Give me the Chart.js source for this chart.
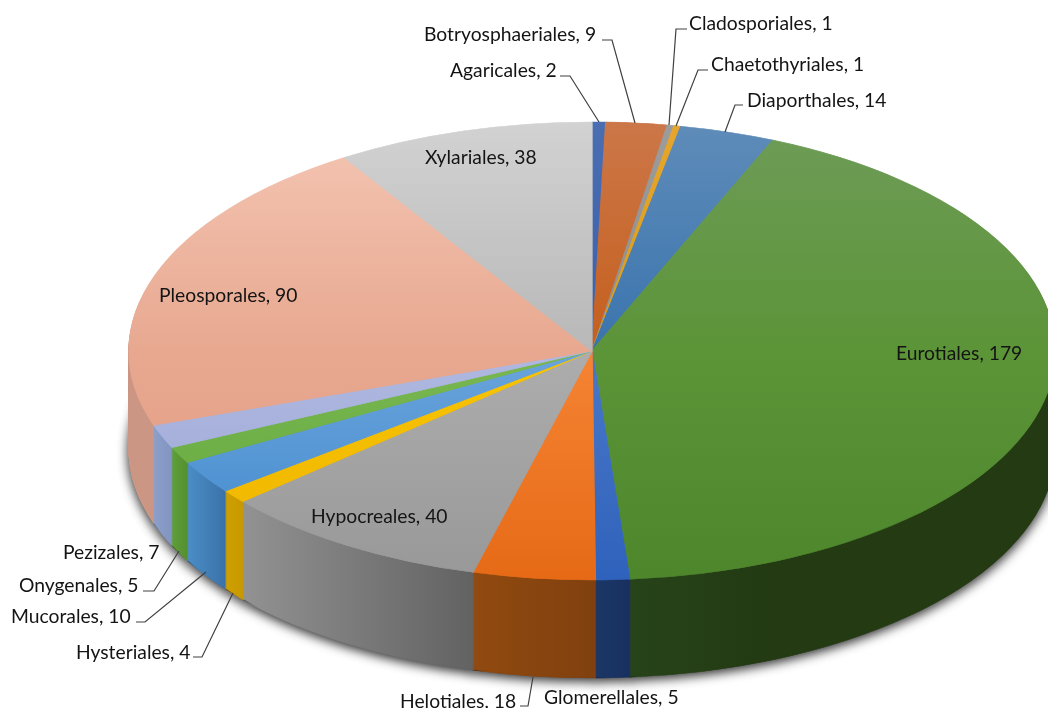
<!DOCTYPE html>
<html>
<head>
<meta charset="utf-8">
<title>Fungal orders</title>
<script src="https://cdn.jsdelivr.net/npm/chart.js@4"></script>
<style>
  html, body { margin: 0; padding: 0; background: #fff; }
  canvas { display: block; }
</style>
</head>
<body>
<canvas id="pieChart" width="1048" height="708"></canvas>
<script>
const orders = ["Agaricales", "Botryosphaeriales", "Cladosporiales", "Chaetothyriales", "Diaporthales",
  "Eurotiales", "Glomerellales", "Helotiales", "Hypocreales", "Hysteriales",
  "Mucorales", "Onygenales", "Pezizales", "Pleosporales", "Xylariales"];
const counts = [2, 9, 1, 1, 14, 179, 5, 18, 40, 4, 10, 5, 7, 90, 38];

// top face colours at the back edge, the hub and the front edge of the pie
const faceBack = ["#4b6eb2", "#cc7749", "#9c9c9c", "#e6a62e", "#5f8cb9",
  "#6e9c58", "#4a78c8", "#f58434", "#adadad", "#f8c400",
  "#6aa4dc", "#7ab852", "#b0b8e0", "#f4c6b4", "#d2d2d2"];
const faceHub = ["#3a60ac", "#c55f1c", "#8e8e8e", "#dc9c14", "#3a74ae",
  "#5c9438", "#4a78c8", "#f58434", "#adadad", "#f8c400",
  "#6aa4dc", "#7ab852", "#b0b8e0", "#e8a890", "#b8b8b8"];
const faceFront = ["#3a60ac", "#c55f1c", "#8e8e8e", "#dc9c14", "#3a74ae",
  "#4e862c", "#2f62bc", "#e66a16", "#989898", "#eeb400",
  "#3f88cc", "#60a438", "#98a6d4", "#e09a80", "#b8b8b8"];
// rim colours, left and right end of each slice
const sideLeft = ["#263c68", "#7a3f18", "#555555", "#8a6210", "#264c78",
  "#274319", "#1b3766", "#914a10", "#929292", "#cfa000",
  "#4b8dc6", "#5e9e38", "#8c9fcb", "#cb9784", "#777777"];
const sideRight = ["#263c68", "#7a3f18", "#555555", "#8a6210", "#264c78",
  "#233a13", "#183060", "#80400f", "#626262", "#c89800",
  "#3a72a8", "#558f30", "#8295bf", "#c08a76", "#777777"];

// where the labels sit: [order index, left x, middle y]
const labelSpots = [
  [0, 450, 71], [1, 424, 35], [2, 689, 24], [3, 711, 65], [4, 747, 101],
  [5, 896, 354], [6, 544, 698], [7, 400, 702], [8, 311, 517], [9, 76, 653],
  [10, 11, 617], [11, 19, 586], [12, 63, 553], [13, 159, 296], [14, 425, 158]
];
// leader lines
const leaders = [
  [[560, 76], [570, 76], [599, 122]],
  [[602, 40], [612, 40], [635, 123]],
  [[687, 29], [676, 29], [669, 125]],
  [[708, 70], [698, 70], [676, 126]],
  [[743, 105], [735, 105], [725, 132]],
  [[143, 591], [154, 591], [179, 551]],
  [[136, 622], [145, 622], [206, 572]],
  [[193, 657], [202, 657], [233, 593]],
  [[520, 706], [528, 706], [533, 677]]
];

// shape of the flattened pie on the page
const CX = 592, CY = 351, RX = 463, RY = 229, DEPTH = 98;

function faceGradient(context) {
  const chart = context.chart;
  const i = context.dataIndex;
  const g = chart.ctx.createLinearGradient(0, 0, 0, chart.height);
  g.addColorStop(0, faceBack[i]);
  g.addColorStop(0.5, faceHub[i]);
  g.addColorStop(1, faceFront[i]);
  return g;
}

// draws one slice again with other colours, still the library's own arc element
function drawArcWith(ctx, arc, fill) {
  const saved = arc.options;
  const opts = Object.create(saved);
  opts.backgroundColor = fill;
  opts.borderColor = fill;
  arc.options = opts;
  arc.draw(ctx);
  arc.options = saved;
}

const pie3d = {
  id: "pie3d",
  beforeDatasetsDraw(chart) {
    const ctx = chart.ctx;
    const arcs = chart.getDatasetMeta(0).data;
    const R = arcs[0].outerRadius;
    const scaleY = RY / R;

    ctx.save();
    ctx.translate(CX, CY);
    ctx.scale(RX / R, scaleY);
    ctx.translate(-arcs[0].x, -arcs[0].y);

    const sideFills = arcs.map((arc, i) => {
      const x1 = arc.x + R * Math.cos(arc.endAngle);
      const x2 = arc.x + R * Math.cos(arc.startAngle);
      const g = ctx.createLinearGradient(Math.min(x1, x2), 0, Math.max(x1, x2), 0);
      g.addColorStop(0, sideLeft[i]);
      g.addColorStop(1, sideRight[i]);
      return g;
    });

    // rim: stack the pie downwards, the lowest copy throws the shadow
    for (let d = DEPTH; d >= 1; d--) {
      ctx.save();
      ctx.translate(0, d / scaleY);
      if (d === DEPTH) {
        ctx.shadowColor = "rgba(0,0,0,0.85)";
        ctx.shadowBlur = 11;
        ctx.shadowOffsetY = 3;
      }
      arcs.forEach((arc, i) => drawArcWith(ctx, arc, sideFills[i]));
      ctx.restore();
    }
  },
  afterDatasetsDraw(chart) {
    const ctx = chart.ctx;
    ctx.restore();

    ctx.strokeStyle = "#404040";
    ctx.lineWidth = 1.2;
    leaders.forEach((pts) => {
      ctx.beginPath();
      pts.forEach((p, i) => (i ? ctx.lineTo(p[0], p[1]) : ctx.moveTo(p[0], p[1])));
      ctx.stroke();
    });

    ctx.font = '19.3px Lato, "Open Sans", sans-serif';
    ctx.fillStyle = "#141414";
    ctx.textAlign = "left";
    ctx.textBaseline = "middle";
    labelSpots.forEach(([i, x, y]) => {
      ctx.fillText(`${orders[i]}, ${counts[i]}`, x, y);
    });
  },
};

new Chart(document.getElementById("pieChart"), {
  type: "pie",
  data: {
    labels: orders,
    datasets: [{
      data: counts,
      backgroundColor: faceGradient,
      borderColor: faceGradient,
      borderWidth: 1,
      clip: false,
    }],
  },
  options: {
    responsive: false,
    animation: false,
    layout: { padding: 0 },
    plugins: { legend: { display: false }, tooltip: { enabled: false } },
  },
  plugins: [pie3d],
});
</script>
</body>
</html>
